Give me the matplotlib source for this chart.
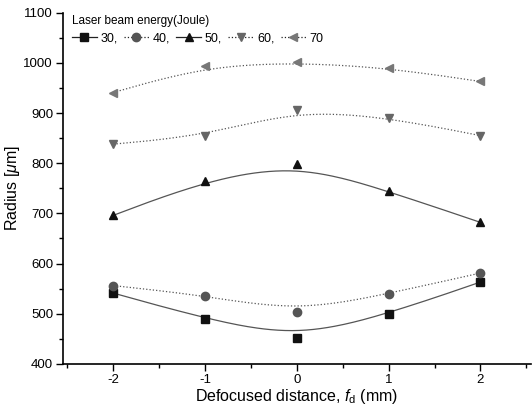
import numpy as np
import matplotlib
matplotlib.use("Agg")
import matplotlib.pyplot as plt
from matplotlib.ticker import MultipleLocator

plt.rcParams['font.family'] = ['Liberation Sans', 'DejaVu Sans']
plt.rcParams['mathtext.fontset'] = 'custom'
plt.rcParams['mathtext.rm'] = 'Liberation Sans'
plt.rcParams['mathtext.it'] = 'Liberation Sans:italic'
plt.rcParams['axes.unicode_minus'] = False

# defocused distance (mm)
fd = [-2, -1, 0, 1, 2]

# radius (um) per laser beam energy (Joule)
r30 = [541, 490, 452, 500, 563]
r40 = [556, 536, 504, 540, 581]
r50 = [696, 765, 799, 744, 682]
r60 = [838, 855, 906, 891, 855]
r70 = [941, 993, 1001, 990, 963]

labels = ["30,", "40,", "50,", "60,", "70"]
series = [r30, r40, r50, r60, r70]
markers = ["s", "o", "^", "v", "<"]
mcolors = ["#111111", "#555555", "#111111", "#666666", "#777777"]
lstyles = ["-", ":", "-", ":", ":"]

# uniform cubic B-spline basis
BASIS = np.array([[-1, 3, -3, 1],
                  [3, -6, 3, 0],
                  [-3, 0, 3, 0],
                  [1, 4, 1, 0]]) / 6.0


def bspline(px, py, n=40):
    # B-spline through the end points (end control points tripled)
    pts = np.column_stack([px, py]).astype(float)
    pts = np.vstack([pts[:1], pts[:1], pts, pts[-1:], pts[-1:]])
    s = np.linspace(0, 1, n)
    T = np.column_stack([s ** 3, s ** 2, s, np.ones_like(s)])
    out = [T @ BASIS @ pts[i:i + 4] for i in range(len(pts) - 3)]
    out = np.vstack(out)
    return out[:, 0], out[:, 1]


fig = plt.figure(figsize=(5.32, 4.12), dpi=100)
ax = fig.add_axes([0.118, 0.117, 0.88, 0.852])

for y, lab, m, c, ls in zip(series, labels, markers, mcolors, lstyles):
    cx, cy = bspline(fd, y)
    ax.plot(cx, cy, color="#555555", lw=0.9, ls=ls)
    ax.plot(fd, y, ls="none", marker=m, color=c, ms=6)
    # legend proxy
    ax.plot([], [], color="#222222", lw=0.9, ls=ls, marker=m, mfc=c, mec=c, ms=6, label=lab)

ax.set_xlim(-2.55, 2.55)
ax.set_ylim(400, 1100)
ax.xaxis.set_major_locator(MultipleLocator(1))
ax.xaxis.set_minor_locator(MultipleLocator(0.5))
ax.yaxis.set_major_locator(MultipleLocator(100))
ax.yaxis.set_minor_locator(MultipleLocator(50))
ax.spines['top'].set_visible(False)
ax.spines['right'].set_visible(False)
ax.spines['left'].set_linewidth(1.2)
ax.spines['bottom'].set_linewidth(1.2)
ax.tick_params(which='major', length=5, width=1, labelsize=9.5, direction='out', pad=2)
ax.tick_params(which='minor', length=3, width=1, direction='out')

ax.set_xlabel(r"Defocused distance, $f_{\rm d}$ (mm)", fontsize=11.5, labelpad=1)
ax.set_ylabel(r"Radius [$\mu$m]", fontsize=11.5, labelpad=1)

leg = ax.legend(title="Laser beam energy(Joule)", ncol=5, loc="upper left",
                bbox_to_anchor=(0.0, 1.02), frameon=False, fontsize=9,
                title_fontsize=8.5, handlelength=2.0, handletextpad=0.3,
                columnspacing=0.5, borderaxespad=0.3)
leg._legend_box.align = "left"

fig.savefig("out.png", dpi=100)
